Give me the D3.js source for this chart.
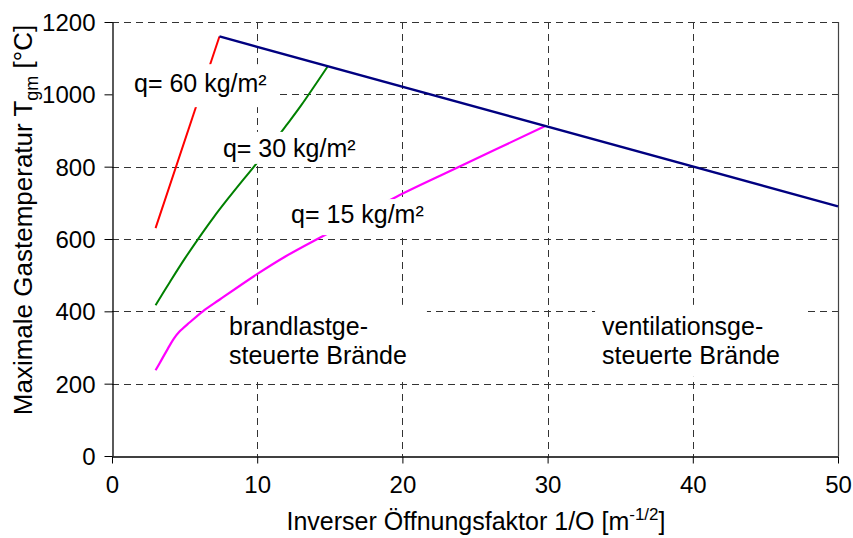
<!DOCTYPE html>
<html>
<head>
<meta charset="utf-8">
<script src="https://cdn.jsdelivr.net/npm/d3@7"></script>
<style>
  html, body { margin: 0; padding: 0; background: #fff; }
  svg { display: block; font-family: "Liberation Sans", Arial, sans-serif; }
</style>
</head>
<body>
<svg id="chart" width="853" height="538"></svg>
<script>
// Axis ticks
const xTicks = [0, 10, 20, 30, 40, 50];
const yTicks = [0, 200, 400, 600, 800, 1000, 1200];

// Ventilation-controlled limit (upper envelope)
const ventX = [7.4, 50];
const ventY = [1160, 690];

// Fuel-controlled curves for the three fire loads
const q60X = [3, 7.4];
const q60Y = [630, 1160];

const q30X = [3, 4, 5, 6, 7, 8, 9, 10, 11, 12, 13, 14.85];
const q30Y = [417, 482, 545, 604, 660, 712, 762, 811, 861, 914, 968, 1077];

const q15X = [3, 3.4, 3.85, 4.25, 4.65, 5.34, 6.26, 7.4, 9.96, 12, 14.7, 19.6, 24.2, 29.8];
const q15Y = [237, 265, 297, 324, 344, 369, 400, 432, 502, 553, 612, 717, 805, 912];

// Curve labels (anchor in data units)
const curveLabels = ["q= 60 kg/m²", "q= 30 kg/m²", "q= 15 kg/m²"];
const curveLabelX = [1.515, 7.64, 12.33];
const curveLabelY = [1006, 827, 644];

// Region labels (two lines each)
const regionLines = [["brandlastge-", "steuerte Brände"], ["ventilationsge-", "steuerte Brände"]];
const regionX = [8.06, 33.75];
const regionY = [335, 335];

(function draw() {
  const svg = d3.select("#chart");
  const pL = 112, pR = 838, pT = 22, pB = 456;

  const x = d3.scaleLinear().domain([0, 50]).range([pL, pR]);
  const y = d3.scaleLinear().domain([0, 1200]).range([pB, pT]);

  const TICK_FONT = 24;
  const FONT = 25;
  const gridColor = "#333";

  // Gridlines
  const grid = svg.append("g");
  grid.selectAll("line.h").data(yTicks.filter(d => d > 0)).join("line")
    .attr("x1", pL).attr("x2", pR)
    .attr("y1", d => Math.round(y(d)) + 0.5).attr("y2", d => Math.round(y(d)) + 0.5)
    .attr("stroke", gridColor).attr("stroke-width", 1).attr("stroke-dasharray", "7,5");
  grid.selectAll("line.v").data(xTicks.filter(d => d > 0 && d < 50)).join("line")
    .attr("y1", pT).attr("y2", pB)
    .attr("x1", d => Math.round(x(d)) + 0.5).attr("x2", d => Math.round(x(d)) + 0.5)
    .attr("stroke", gridColor).attr("stroke-width", 1).attr("stroke-dasharray", "7,5");
  // right border
  grid.append("line")
    .attr("x1", Math.round(x(50)) + 0.5).attr("x2", Math.round(x(50)) + 0.5)
    .attr("y1", pT).attr("y2", pB)
    .attr("stroke", "#444").attr("stroke-width", 1.2);

  // Data lines
  const line = d3.line().x(d => x(d[0])).y(d => y(d[1])).curve(d3.curveCatmullRom.alpha(0.5));
  const series = [
    { xs: q60X, ys: q60Y, color: "#ff0000", w: 2 },
    { xs: q30X, ys: q30Y, color: "#008000", w: 2 },
    { xs: q15X, ys: q15Y, color: "#ff00ff", w: 2.2 },
    { xs: ventX, ys: ventY, color: "#000080", w: 2.4 }
  ];
  svg.append("g").selectAll("path").data(series).join("path")
    .attr("d", s => line(s.xs.map((v, i) => [v, s.ys[i]])))
    .attr("fill", "none")
    .attr("stroke", s => s.color)
    .attr("stroke-width", s => s.w)
    .attr("stroke-linejoin", "round");

  // Labels with white boxes behind them
  const labels = svg.append("g");
  function boxedText(lines, px, py, pad) {
    const g = labels.append("g");
    const rect = g.append("rect").attr("fill", "#fff");
    const t = g.append("text").attr("font-size", FONT).attr("fill", "#000");
    lines.forEach((s, i) => {
      t.append("tspan").attr("x", px).attr("y", py + i * 29).text(s);
    });
    const bb = t.node().getBBox();
    rect.attr("x", bb.x - pad[3]).attr("y", bb.y - pad[0])
      .attr("width", bb.width + pad[1] + pad[3])
      .attr("height", bb.height + pad[0] + pad[2]);
  }
  const curvePads = [[5, 12, 10, 22], [2, 12, 2, 4], [1, 11, 7, 6]];
  curveLabels.forEach((s, i) => {
    boxedText([s], x(curveLabelX[i]), y(curveLabelY[i]), curvePads[i]);
  });
  const regionPads = [[7, 20, 10, 4], [7, 27, 8, 7]];
  regionLines.forEach((ls, i) => {
    boxedText(ls, x(regionX[i]), y(regionY[i]), regionPads[i]);
  });

  // Axes
  const xAxis = d3.axisBottom(x).tickValues(xTicks).tickSize(7).tickSizeOuter(0).tickPadding(12)
    .tickFormat(d3.format("d"));
  const yAxis = d3.axisLeft(y).tickValues(yTicks).tickSize(8).tickSizeOuter(0).tickPadding(9)
    .tickFormat(d3.format("d"));

  const gx = svg.append("g").attr("transform", `translate(0,${pB + 0.5})`).call(xAxis);
  const gy = svg.append("g").attr("transform", `translate(${pL + 0.5},0)`).call(yAxis);
  [gx, gy].forEach(g => {
    g.select(".domain").attr("stroke", "#000").attr("stroke-width", 1.3);
    g.selectAll(".tick line").attr("stroke", "#000").attr("stroke-width", 1);
    g.selectAll(".tick text").attr("font-size", TICK_FONT).attr("fill", "#000")
      .attr("font-family", "'Liberation Sans', Arial, sans-serif");
  });
  gx.selectAll(".tick text").attr("dy", "0.71em");
  gy.selectAll(".tick text").attr("dy", "0.35em");

  // Axis titles
  const xt = svg.append("text")
    .attr("x", (pL + pR) / 2 + 1).attr("y", 530)
    .attr("text-anchor", "middle").attr("font-size", FONT).attr("fill", "#000");
  xt.append("tspan").text("Inverser Öffnungsfaktor 1/O [m");
  xt.append("tspan").attr("font-size", 17).attr("dy", -10).text("-1/2");
  xt.append("tspan").attr("dy", 10).text("]");

  const yt = svg.append("text")
    .attr("transform", `translate(32,220) rotate(-90)`)
    .attr("text-anchor", "middle").attr("font-size", 26).attr("fill", "#000");
  yt.append("tspan").text("Maximale Gastemperatur T");
  yt.append("tspan").attr("font-size", 18).attr("dy", 6).text("gm");
  yt.append("tspan").attr("dy", -6).text(" [°C]");
})();
</script>
</body>
</html>
